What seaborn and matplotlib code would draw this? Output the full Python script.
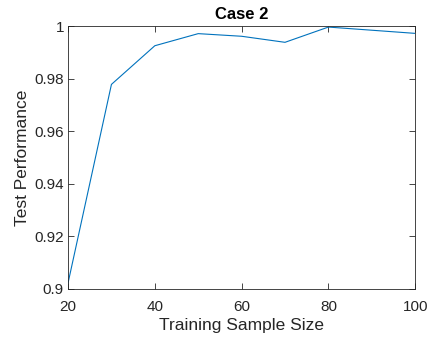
import matplotlib
matplotlib.use("Agg")
import pandas as pd
import seaborn as sns
import matplotlib.pyplot as plt

# ----------------------
# Data
# ----------------------
sample_size = [20, 30, 40, 50, 60, 70, 80, 100]
test_perf = [0.9023, 0.9778, 0.9925, 0.9971, 0.9961, 0.9938, 0.9996, 0.9972]
x_ticks = [20, 40, 60, 80, 100]
y_ticks = [0.9, 0.92, 0.94, 0.96, 0.98, 1.0]
y_tick_labels = ["0.9", "0.92", "0.94", "0.96", "0.98", "1"]

df = pd.DataFrame({"size": sample_size, "perf": test_perf})

sns.set_style("ticks")
plt.rcParams["font.family"] = ["Liberation Sans", "DejaVu Sans"]

axis_gray = "#262626"
fig = plt.figure(figsize=(4.28, 3.4), dpi=100)
ax = fig.add_axes([0.159, 0.150, 0.811, 0.7735])

sns.lineplot(data=df, x="size", y="perf", color="#0072BD", linewidth=0.8, ax=ax)

ax.set_xlim(20, 100)
ax.set_ylim(0.9, 1.0)
ax.set_xticks(x_ticks)
ax.set_yticks(y_ticks)
ax.set_yticklabels(y_tick_labels)
ax.tick_params(direction="in", top=True, right=True, length=4, width=0.6,
               colors=axis_gray, labelsize=11, pad=3)
ax.tick_params(axis="x", pad=8)
for sp in ax.spines.values():
    sp.set_color(axis_gray)
    sp.set_linewidth(0.6)

ax.set_xlabel("Training Sample Size", fontsize=12.5, color=axis_gray, labelpad=3)
ax.set_ylabel("Test Performance", fontsize=12.5, color=axis_gray, labelpad=3)
ax.set_title("Case 2", fontsize=12, fontweight="bold", color="black", pad=5)

fig.savefig("out.png", dpi=100)
